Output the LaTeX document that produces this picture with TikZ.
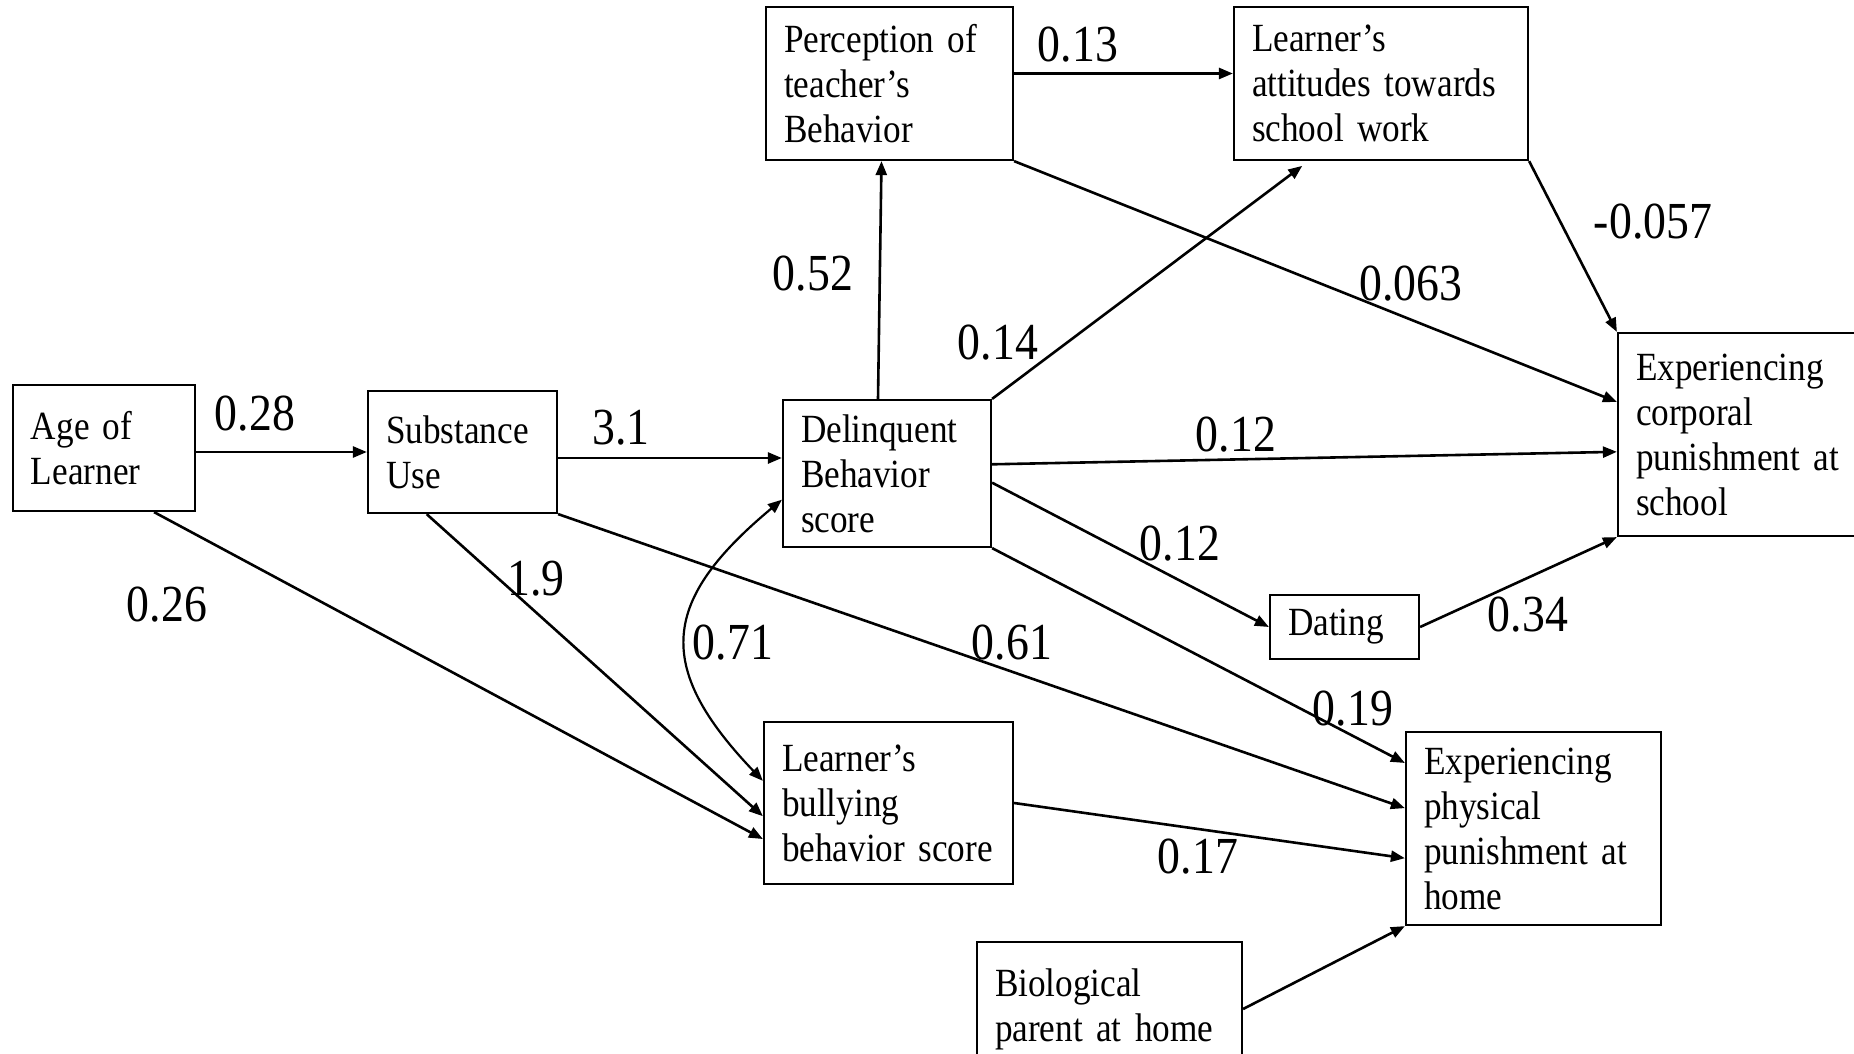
\documentclass[tikz,border=0pt]{standalone}
\usepackage{fontspec}
\setmainfont{Liberation Serif}[FakeStretch=0.88]
\usetikzlibrary{arrows.meta, calc}
\DeclareRobustCommand\boxtext{%
  \fontsize{20}{22.5}\selectfont\spaceskip=4pt plus 1pt minus 1pt\relax}
\tikzset{
  varbox/.style={
    rectangle, draw=black, line width=1.1pt, align=left,
    inner xsep=9pt, inner ysep=3pt, font=\boxtext
  },
  coef/.style={inner sep=0pt, font=\fontsize{26}{30}\selectfont},
  arrow/.style={-{Triangle[length=7pt,width=5.5pt]}, line width=1.3pt},
  biarrow/.style={{Triangle[length=7pt,width=5.5pt]}-{Triangle[length=7pt,width=5.5pt]}, line width=1.1pt}
}

\begin{document}
\begin{tikzpicture}[x=0.5pt, y=-0.5pt]
  \useasboundingbox (0,0) rectangle (1854,1054);

  % variables
  \node[varbox, text width=73pt, minimum height=63pt] (age) at (104,448)
        {Age of\\Learner};
  \node[varbox, text width=76.5pt, minimum height=61pt] (subst) at (462.5,452)
        {Substance\\Use};
  \node[varbox, text width=86pt, minimum height=73.5pt] (delinq) at (887,473.5)
        {Delinquent\\Behavior\\score};
  \node[varbox, text width=105.5pt, minimum height=76.5pt] (percep) at (889.5,83.5)
        {Perception of\\teacher’s\\Behavior};
  \node[varbox, text width=129pt, minimum height=76.5pt] (attit) at (1381,83.5)
        {Learner’s\\attitudes towards\\school work};
  \node[varbox, text width=122pt, minimum height=101.5pt] (corp) at (1758,434.5)
        {Experiencing\\corporal\\punishment at\\school};
  \node[varbox, text width=56.5pt, minimum height=32pt] (dating) at (1344.5,627)
        {Dating};
  \node[varbox, text width=106.5pt, minimum height=81pt] (bully) at (888.5,803)
        {Learner’s\\bullying\\behavior score};
  \node[varbox, text width=109.5pt, minimum height=96.5pt] (phys) at (1533.5,828.5)
        {Experiencing\\physical\\punishment at\\home};
  \node[varbox, text width=114.5pt, minimum height=67pt] (bio) at (1109.5,1009)
        {Biological\\parent at home};

  % paths from age and substance use
  \draw[arrow] ([yshift=-2pt]age.east) -- (subst.west);
  \draw[arrow] ([yshift=-3pt]subst.east) -- ([yshift=-3pt]subst.east -| delinq.west);
  \draw[arrow] (age.-52) -- (bully.196);
  \draw[arrow] (subst.240) -- (bully.186);
  \draw[arrow] (subst.south east) -- (phys.171);

  % covariance delinquent <-> bullying
  \draw[biarrow] (delinq.194) .. controls +(-120,100) and +(-110,-115) .. (bully.170);

  % paths from delinquent behavior
  \draw[arrow] ([xshift=-4.5pt]delinq.north) -- ([xshift=-4pt]percep.south);
  \draw[arrow, shorten >=4pt] (delinq.north east) -- (attit.227);
  \draw[arrow] (delinq.5) -- (corp.187);
  \draw[arrow] (delinq.-5) -- (dating.west);
  \draw[arrow] (delinq.south east) -- (phys.153);

  % upper paths
  \draw[arrow] ([yshift=5pt]percep.east) -- ([yshift=5pt]attit.west);
  \draw[arrow] (percep.south east) -- (corp.167);
  \draw[arrow] (attit.south east) -- (corp.north west);

  % lower paths
  \draw[arrow] (dating.east) -- (corp.south west);
  \draw[arrow] (bully.east) -- (phys.193);
  \draw[arrow] (bio.east) -- (phys.south west);

  % coefficients
  \node[coef] (b028) at (255,414) {0.28};
  \node[coef] (b31) at (621,428) {3.1};
  \node[coef] (b026) at (167,605) {0.26};
  \node[coef] (b19) at (536,579) {1.9};
  \node[coef] (b061) at (1012,643) {0.61};
  \node[coef] (b071) at (733,643) {0.71};
  \node[coef] (b052) at (813,274) {0.52};
  \node[coef] (b014) at (998,343) {0.14};
  \node[coef] (b013) at (1078,45) {0.13};
  \node[coef] (b0063) at (1411,284) {0.063};
  \node[coef] (bm0057) at (1653,222) {-0.057};
  \node[coef] (b012c) at (1236,435) {0.12};
  \node[coef] (b012d) at (1180,544) {0.12};
  \node[coef] (b019) at (1353,709) {0.19};
  \node[coef] (b034) at (1528,615) {0.34};
  \node[coef] (b017) at (1198,857) {0.17};
\end{tikzpicture}
\end{document}
